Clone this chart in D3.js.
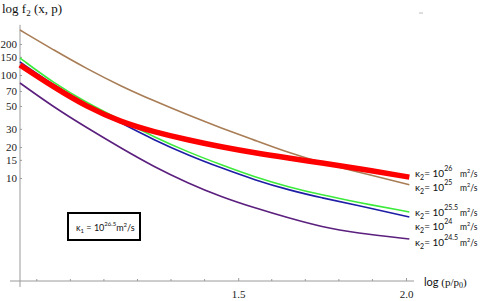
<!DOCTYPE html>
<html>
<head>
<meta charset="utf-8">
<script src="https://cdn.jsdelivr.net/npm/d3@7"></script>
<style>
  body { margin: 0; background: #fff; }
  svg { display: block; }
  .serif { font-family: "Liberation Serif", "DejaVu Serif", serif; }
  .sans { font-family: Lato, "Liberation Sans", sans-serif; }
</style>
</head>
<body>
<div id="chart"></div>
<script>
// values
const xVals  = [0.85, 0.95, 1.05, 1.15, 1.25, 1.35, 1.45, 1.55, 1.65, 1.75, 1.85, 2.01];
const brown  = [273.5, 175, 114.4, 78.2, 55.9, 40.9, 30.5, 23.2, 17.6, 14.0, 11.6, 8.6];
const purple = [83.6, 48.9, 30.6, 19.6, 12.8, 8.94, 6.54, 5.11, 4.09, 3.34, 2.92, 2.56];
const blue   = [133.7, 80.0, 51.1, 34.2, 23.4, 16.7, 12.5, 9.57, 7.65, 6.40, 5.47, 4.18];
const green  = [146, 83.6, 53.5, 36.6, 25.0, 17.9, 13.4, 10.2, 8.18, 6.84, 5.85, 4.68];
const red    = [125, 76.4, 48.9, 35.0, 28.0, 23.4, 20.0, 17.5, 15.6, 14.0, 12.5, 10.2];

const yTicks = [10, 15, 20, 30, 50, 70, 100, 150, 200];
const xTicks = [1.5, 2.0];
const xMinor = [0.9, 1.0, 1.1, 1.2, 1.3, 1.4, 1.6, 1.7, 1.8, 1.9];
const kappaExps = ["26", "25", "25.5", "24", "24.5"];

const width = 485, height = 301;

const svg = d3.select('#chart').append('svg')
  .attr('width', width)
  .attr('height', height);

const x = d3.scaleLinear().domain([0.85, 2.0]).range([20, 406]);
const y = d3.scaleLog().domain([1, 300]).range([281, 281 - 103 * Math.log10(300)]);

const axisColor = '#9a9a9a';

// axis lines (Mathematica style, crossing a little)
svg.append('line')
  .attr('x1', x(0.85)).attr('x2', x(0.85))
  .attr('y1', y(300) - 1).attr('y2', y(1) + 6)
  .attr('stroke', axisColor);
svg.append('line')
  .attr('x1', x(0.85) - 10).attr('x2', x(2.0) + 8)
  .attr('y1', y(1)).attr('y2', y(1))
  .attr('stroke', axisColor);

// y axis ticks + labels
const yAxis = svg.append('g')
  .attr('transform', `translate(${x(0.85)},0)`)
  .call(d3.axisLeft(y).tickValues(yTicks).tickFormat(d3.format('d'))
    .tickSizeInner(-2).tickSizeOuter(0).tickPadding(3));
yAxis.select('.domain').remove();
yAxis.selectAll('line').attr('stroke', axisColor);
yAxis.selectAll('text')
  .attr('class', 'serif')
  .style('font-size', '11px')
  .attr('fill', '#222');

// x axis ticks + labels
const xAxis = svg.append('g')
  .attr('transform', `translate(0,${y(1)})`)
  .call(d3.axisBottom(x).tickValues(xTicks).tickFormat(d3.format('.1f'))
    .tickSizeInner(-3).tickSizeOuter(0).tickPadding(9));
xAxis.select('.domain').remove();
xAxis.selectAll('line').attr('stroke', axisColor);
xAxis.selectAll('text')
  .attr('class', 'serif')
  .style('font-size', '11px')
  .attr('fill', '#222');

svg.append('g').selectAll('line')
  .data(xMinor)
  .enter().append('line')
    .attr('x1', d => x(d)).attr('x2', d => x(d))
    .attr('y1', y(1)).attr('y2', y(1) - 2)
    .attr('stroke', axisColor);

// curves
const line = d3.line()
  .x((d, i) => x(xVals[i]))
  .y(d => y(d))
  .curve(d3.curveBasis);

const series = [
  { values: brown,  color: '#a97d55', w: 1.6 },
  { values: purple, color: '#5b1f7e', w: 1.6 },
  { values: blue,   color: '#1d1da6', w: 1.6 },
  { values: green,  color: '#3cea3c', w: 1.6 },
  { values: red,    color: '#ff0000', w: 5.5 }
];

svg.append('g').selectAll('path')
  .data(series)
  .enter().append('path')
    .attr('d', d => line(d.values))
    .attr('fill', 'none')
    .attr('stroke', d => d.color)
    .attr('stroke-width', d => d.w);

// title
const title = svg.append('text')
  .attr('class', 'serif')
  .attr('x', 2).attr('y', 13)
  .style('font-size', '13px')
  .attr('fill', '#111');
title.append('tspan').text('log f');
title.append('tspan').attr('dy', 3).style('font-size', '9px').text('2');
title.append('tspan').attr('dy', -3).text(' (x, p)');

// x axis label
const xl = svg.append('text')
  .attr('x', 424).attr('y', 286)
  .style('font-size', '11px')
  .attr('fill', '#111');
xl.append('tspan').attr('class', 'sans').text('log ');
xl.append('tspan').attr('class', 'serif').text('(p/p');
xl.append('tspan').attr('class', 'serif').attr('dy', 2).style('font-size', '8px').text('0');
xl.append('tspan').attr('class', 'serif').attr('dy', -2).text(')');

// right-hand kappa labels
const labelY = [177, 191, 216, 230, 246];
const kl = svg.append('g').attr('class', 'sans').attr('fill', '#111');
kappaExps.forEach((e, i) => {
  const t = kl.append('text').attr('x', 415).attr('y', labelY[i]).style('font-size', '10px');
  t.append('tspan').text('\u03ba');
  t.append('tspan').attr('dy', 3).style('font-size', '7px').text('2');
  t.append('tspan').attr('dy', -3).text('= 10');
  t.append('tspan').attr('dy', -6).style('font-size', '7px').text(e);
  const m = kl.append('text').attr('x', 460).attr('y', labelY[i]).style('font-size', '8.5px');
  m.append('tspan').text('m');
  m.append('tspan').attr('dy', -4).style('font-size', '5.5px').text('2');
  m.append('tspan').attr('dy', 4).text('/s');
});

// boxed kappa_1 note
svg.append('rect')
  .attr('x', 68).attr('y', 213)
  .attr('width', 72).attr('height', 27)
  .attr('fill', '#fff')
  .attr('stroke', '#000')
  .attr('stroke-width', 2);
const bt = svg.append('text')
  .attr('class', 'sans')
  .attr('x', 76).attr('y', 231)
  .style('font-size', '9px')
  .attr('fill', '#111');
bt.append('tspan').text('\u03ba');
bt.append('tspan').attr('dy', 2).style('font-size', '6px').text('1');
bt.append('tspan').attr('dy', -2).text(' = 10');
bt.append('tspan').attr('dy', -5).style('font-size', '6px').text('26.5');
bt.append('tspan').attr('dy', 5).text('m');
bt.append('tspan').attr('dy', -4).style('font-size', '6px').text('2');
bt.append('tspan').attr('dy', 4).text('/s');

// stray tick mark at top right
svg.append('line')
  .attr('x1', 419).attr('x2', 423)
  .attr('y1', 13).attr('y2', 13)
  .attr('stroke', '#bbb');
</script>
</body>
</html>
